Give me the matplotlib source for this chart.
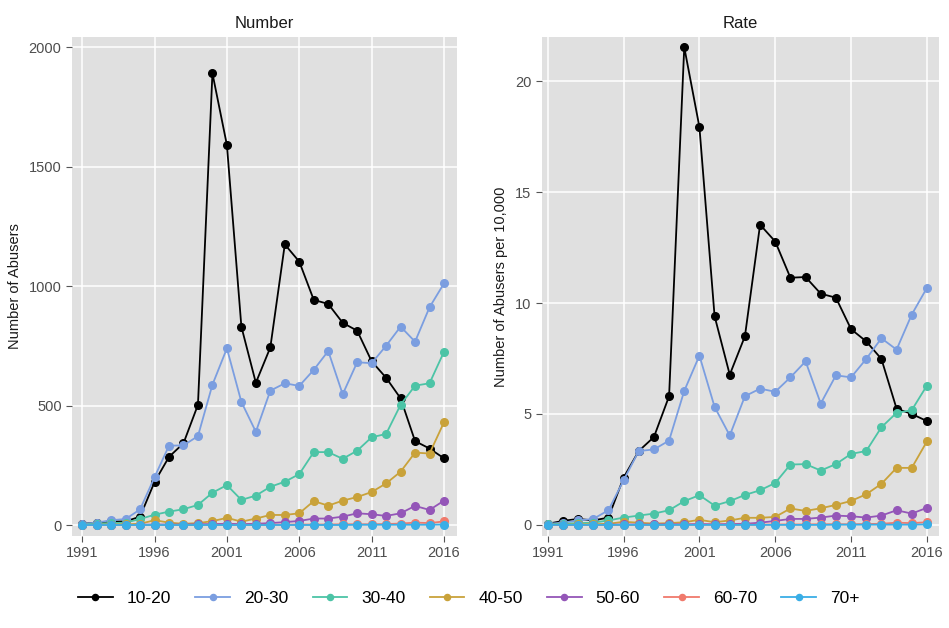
import numpy as np
import matplotlib
matplotlib.use('Agg')
import matplotlib.pyplot as plt

plt.rcParams['font.family'] = ['Liberation Sans', 'DejaVu Sans']

years = list(range(1991, 2017))
groups = ['10-20', '20-30', '30-40', '40-50', '50-60', '60-70', '70+']
colors = ['#000000', '#7b9ee0', '#4cc4a6', '#c9a23a', '#9456b8', '#f07a6c', '#3aaee6']

# Number of abusers
num_10_20 = [5, 10, 15, 15, 35, 180, 285, 342, 503, 1890, 1590, 830, 595, 743, 1174, 1102,
             942, 925, 846, 813, 685, 616, 530, 351, 320, 279]
num_20_30 = [5, 10, 20, 25, 65, 200, 332, 333, 372, 587, 739, 515, 390, 562, 593, 582,
             649, 728, 547, 681, 677, 750, 830, 767, 911, 1011]
num_30_40 = [2, 5, 8, 10, 25, 43, 56, 66, 84, 135, 167, 105, 123, 160, 181, 213,
             305, 305, 277, 311, 367, 381, 503, 583, 593, 725]
num_40_50 = [0, 1, 2, 3, 5, 20, 10, 5, 8, 16, 30, 14, 27, 42, 42, 49,
             100, 81, 102, 117, 138, 174, 223, 303, 299, 430]
num_50_60 = [0, 0, 0, 0, 1, 2, 2, 2, 3, 4, 5, 4, 5, 8, 12, 17,
             27, 27, 35, 49, 45, 38, 49, 80, 63, 102]
num_60_70 = [0, 0, 0, 0, 0, 0, 0, 0, 0, 1, 1, 1, 1, 1, 1, 2,
             2, 2, 3, 3, 3, 4, 6, 10, 8, 15]
num_70 = [0, 0, 0, 0, 0, 0, 0, 0, 0, 0, 0, 0, 0, 0, 0, 0,
          0, 0, 0, 1, 1, 1, 1, 1, 1, 2]

# Rate per 10,000
rate_10_20 = [0.05, 0.18, 0.27, 0.2, 0.33, 2.13, 3.33, 3.96, 5.8, 21.53, 17.93, 9.41, 6.77, 8.5,
              13.53, 12.77, 11.14, 11.17, 10.42, 10.24, 8.82, 8.27, 7.48, 5.24, 5.0, 4.68]
rate_20_30 = [0.05, 0.1, 0.2, 0.27, 0.66, 2.01, 3.33, 3.4, 3.8, 6.04, 7.63, 5.32, 4.03, 5.8,
              6.14, 6.0, 6.65, 7.37, 5.47, 6.74, 6.65, 7.48, 8.41, 7.9, 9.48, 10.68]
rate_30_40 = [0.02, 0.05, 0.08, 0.1, 0.2, 0.33, 0.42, 0.51, 0.66, 1.07, 1.34, 0.87, 1.07, 1.35,
              1.56, 1.89, 2.72, 2.74, 2.45, 2.74, 3.2, 3.33, 4.4, 5.05, 5.17, 6.28]
rate_40_50 = [0.0, 0.01, 0.02, 0.03, 0.05, 0.14, 0.1, 0.06, 0.08, 0.12, 0.23, 0.12, 0.2, 0.32,
              0.32, 0.36, 0.74, 0.63, 0.75, 0.9, 1.08, 1.38, 1.85, 2.57, 2.57, 3.76]
rate_50_60 = [0.0, 0.0, 0.0, 0.0, 0.01, 0.02, 0.02, 0.02, 0.03, 0.03, 0.04, 0.03, 0.04, 0.05,
              0.1, 0.18, 0.27, 0.27, 0.33, 0.42, 0.39, 0.33, 0.42, 0.66, 0.51, 0.77]
rate_60_70 = [0.0, 0.0, 0.0, 0.0, 0.0, 0.0, 0.0, 0.0, 0.0, 0.01, 0.01, 0.01, 0.01, 0.01,
              0.01, 0.02, 0.02, 0.02, 0.03, 0.03, 0.03, 0.04, 0.05, 0.1, 0.08, 0.12]
rate_70 = [0.0] * 19 + [0.01, 0.01, 0.01, 0.01, 0.01, 0.01, 0.02]

num_series = [num_10_20, num_20_30, num_30_40, num_40_50, num_50_60, num_60_70, num_70]
rate_series = [rate_10_20, rate_20_30, rate_30_40, rate_40_50, rate_50_60, rate_60_70, rate_70]

fig = plt.figure(figsize=(9.49, 6.28), dpi=100)
ax1 = fig.add_axes([0.0759, 0.1465, 0.4057, 0.795])
ax2 = fig.add_axes([0.5708, 0.1465, 0.4187, 0.795])

grey_txt = '#4d4d4d'
for ax, series, title, ylabel in [(ax1, num_series, 'Number', 'Number of Abusers'),
                                  (ax2, rate_series, 'Rate', 'Number of Abusers per 10,000')]:
    ax.set_facecolor('#e0e0e0')
    for vals, c, g in zip(series, colors, groups):
        ax.plot(years, vals, color=c, linewidth=1.3, marker='o', markersize=5.5,
                label=g, zorder=3)
    ax.grid(True, color='white', linewidth=1.1)
    ax.set_axisbelow(True)
    for s in ax.spines.values():
        s.set_visible(False)
    ax.set_xticks([1991, 1996, 2001, 2006, 2011, 2016])
    ax.tick_params(colors='#555555', labelcolor=grey_txt, labelsize=10.5, length=4, width=0.8)
    ax.set_title(title, fontsize=12, color='#1a1a1a', pad=6)
    ax.set_ylabel(ylabel, fontsize=10.5, color='#1a1a1a', labelpad=5)

ax1.set_xlim(1990.3, 2016.9)
ax1.set_ylim(-46, 2043)
ax1.set_yticks([0, 500, 1000, 1500, 2000])
ax2.set_xlim(1990.6, 2016.8)
ax2.set_ylim(-0.5, 22.0)
ax2.set_yticks([0, 5, 10, 15, 20])

handles, labels = ax1.get_legend_handles_labels()
fig.legend(handles, labels, loc='center', bbox_to_anchor=(0.494, 0.047), ncol=7,
           frameon=False, fontsize=12.5, handlelength=2.0, columnspacing=1.4,
           handletextpad=0.8, markerscale=0.8)

plt.savefig('out.png', dpi=100)
